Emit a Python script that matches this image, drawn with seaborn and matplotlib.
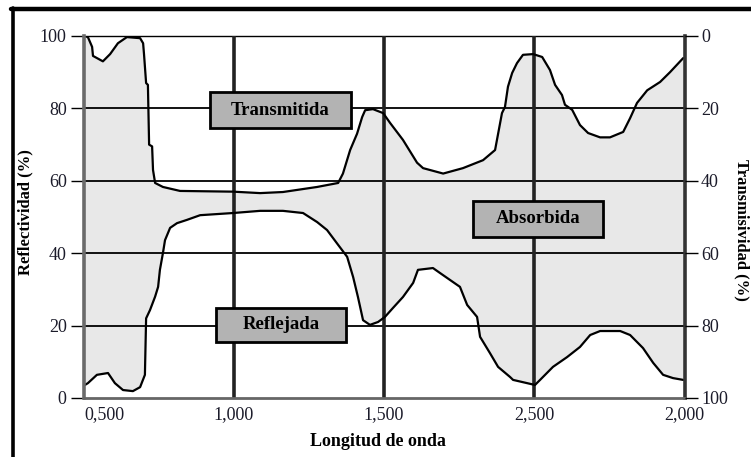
import numpy as np
import pandas as pd
import matplotlib
matplotlib.use("Agg")
import matplotlib.pyplot as plt
from matplotlib.patches import Rectangle
from matplotlib.lines import Line2D
import seaborn as sns

# ---- data ----
# wavelength (µm) and upper boundary (100 - transmittance, in % of the left axis)
x_sup = [0.503, 0.513, 0.527, 0.53, 0.563, 0.587, 0.613, 0.643, 0.687, 0.697, 0.70, 0.707, 0.713,
         0.717, 0.727, 0.73, 0.737, 0.763, 0.82, 0.997, 1.087, 1.163, 1.277, 1.347, 1.363, 1.387,
         1.41, 1.427, 1.437, 1.463, 1.497, 1.52, 1.563, 1.61, 1.63, 1.697, 1.763, 1.83, 1.87,
         1.893, 1.903, 1.913, 1.927, 1.943, 1.963, 1.997, 2.027, 2.053, 2.07, 2.093, 2.103, 2.127,
         2.153, 2.18, 2.22, 2.253, 2.297, 2.32, 2.343, 2.377, 2.42, 2.453, 2.497]
y_sup = [100, 99.7, 97, 94.5, 93, 95, 98, 99.7, 99.4, 98, 95, 87, 86.5,
         70, 69.5, 63, 59.4, 58.3, 57.2, 57, 56.6, 56.9, 58.3, 59.4, 62, 68.5,
         73, 77.6, 79.5, 79.8, 78.7, 76, 71.3, 65, 63.5, 62, 63.5, 65.7, 68.5,
         78.7, 80.4, 86, 89.8, 92.5, 94.8, 95, 94.2, 90.6, 86.5, 83.7, 81, 79.6,
         75.4, 73.2, 72, 72, 73.5, 77.3, 81.5, 85, 87.3, 90, 93.9]

# wavelength (µm) and reflectance (%)
x_ref = [0.503, 0.513, 0.543, 0.58, 0.603, 0.63, 0.663, 0.687, 0.703, 0.707, 0.72, 0.737, 0.747,
         0.753, 0.763, 0.77, 0.787, 0.81, 0.843, 0.887, 0.997, 1.087, 1.163, 1.23, 1.277, 1.31,
         1.347, 1.377, 1.397, 1.413, 1.43, 1.453, 1.48, 1.503, 1.53, 1.563, 1.597, 1.613, 1.663,
         1.687, 1.72, 1.753, 1.777, 1.81, 1.82, 1.853, 1.88, 1.92, 1.93, 1.977, 2.003, 2.02,
         2.063, 2.11, 2.153, 2.187, 2.22, 2.287, 2.32, 2.363, 2.397, 2.43, 2.463, 2.497]
y_ref = [3.6, 4.1, 6.4, 6.9, 4.1, 2.2, 1.9, 3, 6.4, 22, 24.3, 28, 30.7,
         35.4, 40, 43.6, 47, 48.3, 49.2, 50.5, 51.1, 51.7, 51.7, 51.1, 48.6, 46.4,
         42.3, 39, 33.4, 27.9, 21.5, 20.2, 21, 22.4, 24.9, 27.9, 31.8, 35.4, 35.9,
         34.5, 32.6, 30.7, 25.7, 22.4, 16.9, 12.4, 8.6, 5.8, 5, 4.1, 3.6, 5,
         8.6, 11.3, 14.1, 17.4, 18.5, 18.5, 17.4, 13.8, 9.7, 6.4, 5.5, 5]

x_ticks = [0.5, 1.0, 1.5, 2.0, 2.5]
x_labels = ["0,500", "1,000", "1,500", "2,500", "2,000"]
y_ticks = [0, 20, 40, 60, 80, 100]
y2_ticks = [0, 20, 40, 60, 80, 100]
etiquetas = ["Transmitida", "Reflejada", "Absorbida"]

# ---- style ----
sns.set_theme(style="white")
plt.rcParams["font.family"] = ["Liberation Serif", "DejaVu Serif"]

W, H = 751, 457
fig = plt.figure(figsize=(W / 100, H / 100), dpi=100)
L, R, T, B = 84, 685, 36, 398
ax = fig.add_axes([L / W, 1 - B / H, (R - L) / W, (B - T) / H])
ax.set_facecolor("white")

# fill (absorbed region)
poly_x = x_sup + x_ref[::-1]
poly_y = y_sup + y_ref[::-1]
ax.fill(poly_x, poly_y, color="#e8e8e8", zorder=1, lw=0)

# grid lines
for v in [20, 40, 60, 80]:
    ax.axhline(v, color="black", lw=1.3, zorder=2)
ax.axhline(100, color="black", lw=1.0, zorder=2, clip_on=False)
for v in [1.0, 1.5, 2.0]:
    ax.axvline(v, color="#222222", lw=2.6, zorder=2)

df_sup = pd.DataFrame({"x": x_sup, "y": y_sup})
df_ref = pd.DataFrame({"x": x_ref, "y": y_ref})
sns.lineplot(data=df_sup, x="x", y="y", ax=ax, color="black", lw=1.6,
             sort=False, estimator=None, zorder=3)
sns.lineplot(data=df_ref, x="x", y="y", ax=ax, color="black", lw=1.6,
             sort=False, estimator=None, zorder=3)

ax.set_xlim(0.5, 2.503)
ax.set_ylim(0, 100)

ax.spines["top"].set_visible(False)
ax.spines["left"].set_color("#6a6a6a")
ax.spines["left"].set_linewidth(2.6)
ax.spines["right"].set_color("#333333")
ax.spines["right"].set_linewidth(2.6)
ax.spines["bottom"].set_color("#666666")
ax.spines["bottom"].set_linewidth(2.0)
for s in ax.spines.values():
    s.set_zorder(4)

ax.set_xticks(x_ticks)
ax.set_xticklabels(x_labels)
ax.tick_params(axis="x", length=0, pad=6, labelsize=13, colors="#1b1b2a")
xl = ax.get_xticklabels()
xl[0].set_horizontalalignment("left")

ax.set_yticks(y_ticks)
ax.tick_params(axis="y", direction="out", length=9.5, width=1.0, color="black",
               pad=3, labelsize=13, labelcolor="#1b1b2a", left=True)

ax2 = ax.twinx()
ax2.set_ylim(100, 0)
ax2.set_yticks(y2_ticks)
ax2.tick_params(axis="y", direction="out", length=9.5, width=1.0, color="black",
                pad=2, labelsize=13, labelcolor="#1b1b2a", right=True)
for s in ax2.spines.values():
    s.set_visible(False)
ax2.grid(False)

ax.set_xlabel("")
ax.set_ylabel("")
fig.text(378 / W, 1 - 441 / H, "Longitud de onda", ha="center", va="center",
         fontsize=13, fontweight="bold", color="black")
fig.text(25 / W, 1 - 212 / H, "Reflectividad (%)", ha="center", va="center",
         rotation=90, fontsize=12, fontweight="bold", color="black")
fig.text(742 / W, 1 - 230 / H, "Transmisividad (%)", ha="center", va="center",
         rotation=270, fontsize=12, fontweight="bold", color="black")

# label boxes (data coords)
boxes = [(0.92, 74.6, 1.39, 84.5), (0.94, 15.5, 1.373, 24.9), (1.797, 44.5, 2.23, 54.4)]
for name, (x0, y0, x1, y1) in zip(etiquetas, boxes):
    ax.add_patch(Rectangle((x0, y0), x1 - x0, y1 - y0, facecolor="#b3b3b3",
                           edgecolor="black", lw=2, zorder=5))
    ax.text((x0 + x1) / 2, (y0 + y1) / 2, name, ha="center", va="center",
            fontsize=13.5, fontweight="bold", color="black", zorder=6)

# outer frame (top and left)
fig.add_artist(Line2D([12.5 / W, 12.5 / W], [0, 1 - 8 / H], transform=fig.transFigure,
                      color="black", lw=2.6))
fig.add_artist(Line2D([11 / W, 1], [1 - 8.5 / H, 1 - 8.5 / H], transform=fig.transFigure,
                      color="black", lw=3.2))

fig.savefig("out.png", dpi=100, facecolor="white")
